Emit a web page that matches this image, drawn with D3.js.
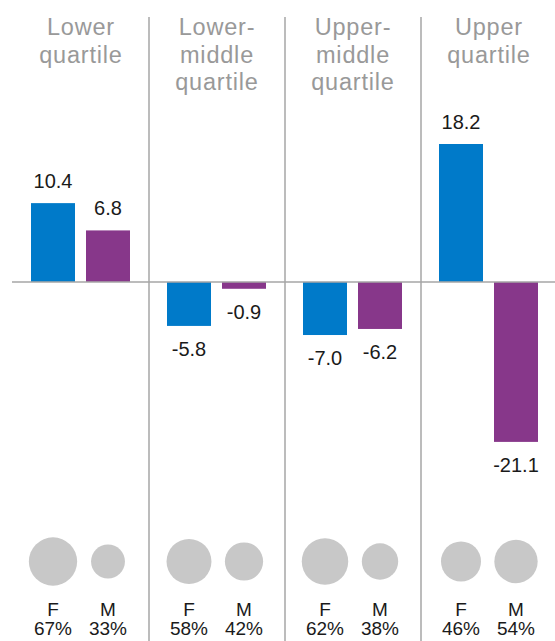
<!DOCTYPE html>
<html><head><meta charset="utf-8">
<script src="https://cdn.jsdelivr.net/npm/d3@7"></script>
<style>body{margin:0;background:#fff}svg{display:block}</style>
</head><body>
<svg id="c" width="555" height="641"></svg>
<script>
const quartiles = ["Lower quartile","Lower-middle quartile","Upper-middle quartile","Upper quartile"];
const titleLines = [["Lower","quartile"],["Lower-","middle","quartile"],["Upper-","middle","quartile"],["Upper","quartile"]];
const sexes = ["F","M"];
const femaleGap = [10.4, -5.8, -7.0, 18.2];
const maleGap = [6.8, -0.9, -6.2, -21.1];
const femaleShare = [67, 58, 62, 46];
const maleShare = [33, 42, 38, 54];

const colors = {F:"#007ac9", M:"#87378a"};
const svg = d3.select("#c");
const W = 555, H = 641;

const xPanel = d3.scaleBand().domain(quartiles).range([13, 557]);
const xSex = d3.scaleBand().domain(sexes).range([18, 117]).paddingInner(0.2);
const y = d3.scaleLinear().domain([-21.1, 18.2]).range([441.9, 144]);
const r = d3.scaleSqrt().domain([0, 100]).range([0, 29.5]);

const data = [];
quartiles.forEach((q, i) => {
  data.push({q, sex:"F", gap: femaleGap[i], share: femaleShare[i]});
  data.push({q, sex:"M", gap: maleGap[i], share: maleShare[i]});
});
const cx = d => xPanel(d.q) + xSex(d.sex) + xSex.bandwidth()/2;

// dividers
svg.selectAll("line.div").data(quartiles.slice(1)).join("line")
  .attr("x1", d => xPanel(d)).attr("x2", d => xPanel(d))
  .attr("y1", 17).attr("y2", H)
  .attr("stroke", "#a6a6a6").attr("stroke-width", 1.5);

// titles
quartiles.forEach((q, i) => {
  const t = svg.append("text")
    .attr("x", xPanel(q) + xPanel.bandwidth()/2)
    .attr("text-anchor", "middle")
    .attr("font-family", "'Liberation Sans', Arial, sans-serif")
    .attr("font-size", 23.5).attr("letter-spacing", 0.8)
    .attr("fill", "#999999");
  titleLines[i].forEach((line, j) => {
    t.append("tspan").attr("x", xPanel(q) + xPanel.bandwidth()/2)
      .attr("y", 35 + j*27.5).text(line);
  });
});

// bars
svg.selectAll("rect.bar").data(data).join("rect")
  .attr("x", d => xPanel(d.q) + xSex(d.sex))
  .attr("width", xSex.bandwidth())
  .attr("y", d => y(Math.max(0, d.gap)))
  .attr("height", d => Math.abs(y(d.gap) - y(0)))
  .attr("fill", d => colors[d.sex]);

// baseline
svg.append("line").attr("x1", 12).attr("x2", W)
  .attr("y1", y(0)).attr("y2", y(0))
  .attr("stroke", "#a6a6a6").attr("stroke-width", 1.5);

// value labels
svg.selectAll("text.val").data(data).join("text")
  .attr("x", cx)
  .attr("y", d => d.gap >= 0 ? y(d.gap) - 15 : y(d.gap) + 30)
  .attr("text-anchor", "middle")
  .attr("font-family", "'Liberation Sans', Arial, sans-serif")
  .attr("font-size", 20).attr("fill", "#1a1a1a")
  .text(d => d3.format(".1f")(d.gap).replace("−","-"));

// circles
svg.selectAll("circle.share").data(data).join("circle")
  .attr("cx", cx).attr("cy", 561.5)
  .attr("r", d => r(d.share))
  .attr("fill", "#c8c8c8");

// sex labels
svg.selectAll("text.sex").data(data).join("text")
  .attr("x", cx).attr("y", 616)
  .attr("text-anchor", "middle")
  .attr("font-family", "'Liberation Sans', Arial, sans-serif")
  .attr("font-size", 19).attr("fill", "#1a1a1a")
  .text(d => d.sex);
svg.selectAll("text.pct").data(data).join("text")
  .attr("x", cx).attr("y", 635)
  .attr("text-anchor", "middle")
  .attr("font-family", "'Liberation Sans', Arial, sans-serif")
  .attr("font-size", 19).attr("fill", "#1a1a1a")
  .text(d => d.share + "%");
</script>
</body></html>
